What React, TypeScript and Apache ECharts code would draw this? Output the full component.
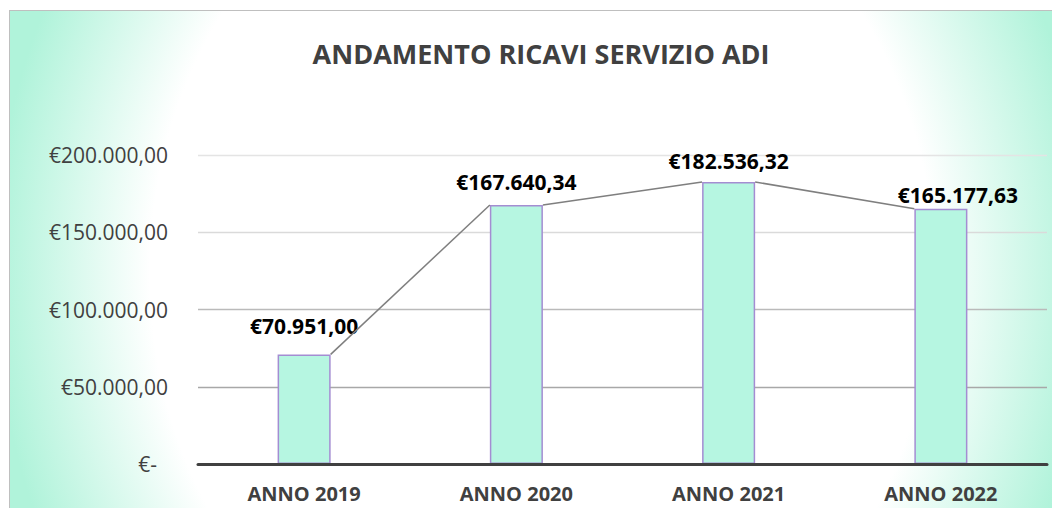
import React, { useEffect, useRef } from "react";
import * as echarts from "echarts";

const categories = ["ANNO 2019", "ANNO 2020", "ANNO 2021", "ANNO 2022"];
const revenues = [70951.0, 167640.34, 182536.32, 165177.63];
const yMin = 0;
const yMax = 200000;
const yStep = 50000;
const titleText = "ANDAMENTO RICAVI SERVIZIO ADI";

function euro(v: number, decimals = 2): string {
  const fixed = v.toFixed(decimals);
  const [intPart, dec] = fixed.split(".");
  const withDots = intPart.replace(/\B(?=(\d{3})+(?!\d))/g, ".");
  return "€" + withDots + (dec ? "," + dec : "");
}

const FONT = "'Open Sans', 'Noto Sans', sans-serif";
// per-label nudges (style only)
const labelOffsets = [
  [0, -8],
  [0, -2],
  [0, 0],
  [17, 7],
];

export default function App() {
  const ref = useRef<HTMLDivElement>(null);

  useEffect(() => {
    if (!ref.current) return;
    const chart = echarts.init(ref.current, null, { renderer: "svg" });

    const connectors = revenues.slice(0, -1).map((v, i) => [i, v, revenues[i + 1]]);

    const option: any = {
      animation: false,
      backgroundColor: "transparent",
      graphic: [
        {
          type: "text",
          x: 541,
          y: 53,
          style: {
            text: titleText,
            fill: "#404040",
            font: `bold 27px ${FONT}`,
            textAlign: "center",
            textVerticalAlign: "middle",
          },
        },
      ],
      grid: { left: 198, right: 5, top: 155, bottom: 44, containLabel: false },
      xAxis: {
        type: "category",
        data: categories,
        axisTick: { show: false },
        axisLine: { show: true, lineStyle: { color: "#404040", width: 3 } },
        axisLabel: {
          color: "#404040",
          fontFamily: FONT,
          fontWeight: "bold",
          fontSize: 20,
          lineHeight: 20,
          margin: 19,
        },
        z: 5,
      },
      yAxis: {
        type: "value",
        min: yMin,
        max: yMax,
        interval: yStep,
        axisLine: { show: false },
        axisTick: { show: false },
        splitLine: {
          lineStyle: {
            color: ["#8c8c8c", "#a8a8a8", "#bababa", "#dadada", "#e4e4e4"],
            width: 1.3,
          },
        },
        axisLabel: {
          color: "#404040",
          fontFamily: FONT,
          fontSize: 21,
          margin: 30,
          formatter: (v: number) => (v === 0 ? "{z|€-}" : euro(v)),
          rich: {
            z: { color: "#404040", fontFamily: FONT, fontSize: 21, padding: [0, 11, 0, 0] },
          },
        },
      },
      series: [
        {
          type: "bar",
          data: revenues.map((v, i) => ({
            value: v,
            label: { offset: labelOffsets[i] },
          })),
          barWidth: "25%",
          itemStyle: { color: "#b6f6e1", borderColor: "#a48dd2", borderWidth: 1.5 },
          label: {
            show: true,
            position: "top",
            distance: 10,
            color: "#000000",
            fontFamily: FONT,
            fontWeight: "bold",
            fontSize: 21,
            formatter: (p: any) => euro(p.value),
          },
          z: 3,
        },
        {
          type: "custom",
          data: connectors,
          z: 4,
          silent: true,
          renderItem: (params: any, api: any) => {
            const i = api.value(0);
            const half = (api.size([1, 0])[0] * 0.25) / 2;
            const p0 = api.coord([i, api.value(1)]);
            const p1 = api.coord([i + 1, api.value(2)]);
            return {
              type: "line",
              shape: { x1: p0[0] + half, y1: p0[1], x2: p1[0] - half, y2: p1[1] },
              style: { stroke: "#7f7f7f", lineWidth: 1.5 },
            };
          },
        },
      ],
    };

    chart.setOption(option);
    return () => chart.dispose();
  }, []);

  return (
    <div
      style={{
        position: "fixed",
        left: 0,
        top: 0,
        width: 1052,
        height: 508,
        overflow: "hidden",
        background: "#ffffff",
      }}
    >
      <div
        style={{
          position: "absolute",
          left: 9,
          top: 10,
          width: 1060,
          height: 520,
          border: "1.5px solid #bfbfbf",
          background:
            "radial-gradient(ellipse 560px 640px at 532px 262px, #ffffff 0%, #ffffff 70%, #b0f3da 98%)",
        }}
      />
      <div
        ref={ref}
        style={{ position: "absolute", left: 0, top: 0, width: 1052, height: 508 }}
      />
    </div>
  );
}
